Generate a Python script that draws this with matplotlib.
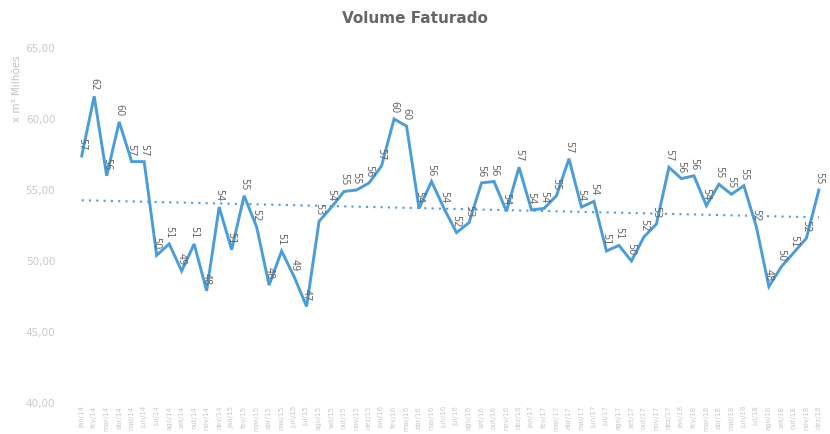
import numpy as np
import matplotlib
matplotlib.use("Agg")
import matplotlib.pyplot as plt
from matplotlib.ticker import FuncFormatter

# Volume faturado mensal (x m³ milhões), 5 anos
meses_pt = ["jan", "fev", "mar", "abr", "mai", "jun", "jul", "ago", "set", "out", "nov", "dez"]
anos = ["14", "15", "16", "17", "18"]
rotulos = [m + "/" + a for a in anos for m in meses_pt]

volume = [57.4, 61.6, 56.0, 59.8, 57.0, 57.0, 50.4, 51.2, 49.3, 51.2,
          47.9, 53.8, 50.8, 54.6, 52.4, 48.3, 50.7, 48.9, 46.8, 52.8,
          53.8, 54.9, 55.0, 55.5, 56.7, 60.0, 59.5, 53.7, 55.6, 53.7,
          52.0, 52.7, 55.5, 55.6, 53.5, 56.6, 53.6, 53.7, 54.6, 57.2,
          53.8, 54.2, 50.7, 51.1, 50.0, 51.7, 52.6, 56.6, 55.8, 56.0,
          53.9, 55.4, 54.7, 55.3, 52.4, 48.2, 49.6, 50.6, 51.6, 55.0]

azul = "#4a9ddb"
x = np.arange(len(volume))

fig = plt.figure(figsize=(8.3, 4.34), dpi=100)
ax = fig.add_axes([0.0867, 0.0714, 0.908, 0.818])

ax.plot(x, volume, color=azul, linewidth=2.1, solid_joinstyle="miter")

# linha de tendencia (regressao linear)
a, b = np.polyfit(x, volume, 1)
ax.plot(x, a * x + b, color=azul, linewidth=1.5, linestyle=(0, (1, 2.5)))

# rotulos de dados
for xi, v in zip(x, volume):
    ax.annotate(f"{v:.0f}", (xi, v), xytext=(0, 4), textcoords="offset points",
                rotation=-90, ha="center", va="bottom", fontsize=7, color="#666666")

ax.set_xlim(-0.78, 59.54)
ax.set_ylim(40, 65)
ax.set_yticks([40, 45, 50, 55, 60, 65])
ax.yaxis.set_major_formatter(FuncFormatter(lambda v, p: f"{v:.2f}".replace(".", ",")))
ax.set_xticks(x)
ax.set_xticklabels(rotulos, rotation=90, fontsize=5, color="#c8c8d0")
ax.tick_params(axis="y", labelsize=7.5, colors="#c8c8d0", length=0, pad=12)
ax.tick_params(axis="x", length=0, pad=2)
for s in ax.spines.values():
    s.set_visible(False)

fig.text(0.021, 0.873, "x m³ Milhões", rotation=90, ha="center", va="top",
         fontsize=7.5, color="#c0c0cc")
fig.text(0.5, 0.958, "Volume Faturado", ha="center", va="center",
         fontsize=11, fontweight="bold", color="#666666")

fig.savefig("out.png", dpi=100)
